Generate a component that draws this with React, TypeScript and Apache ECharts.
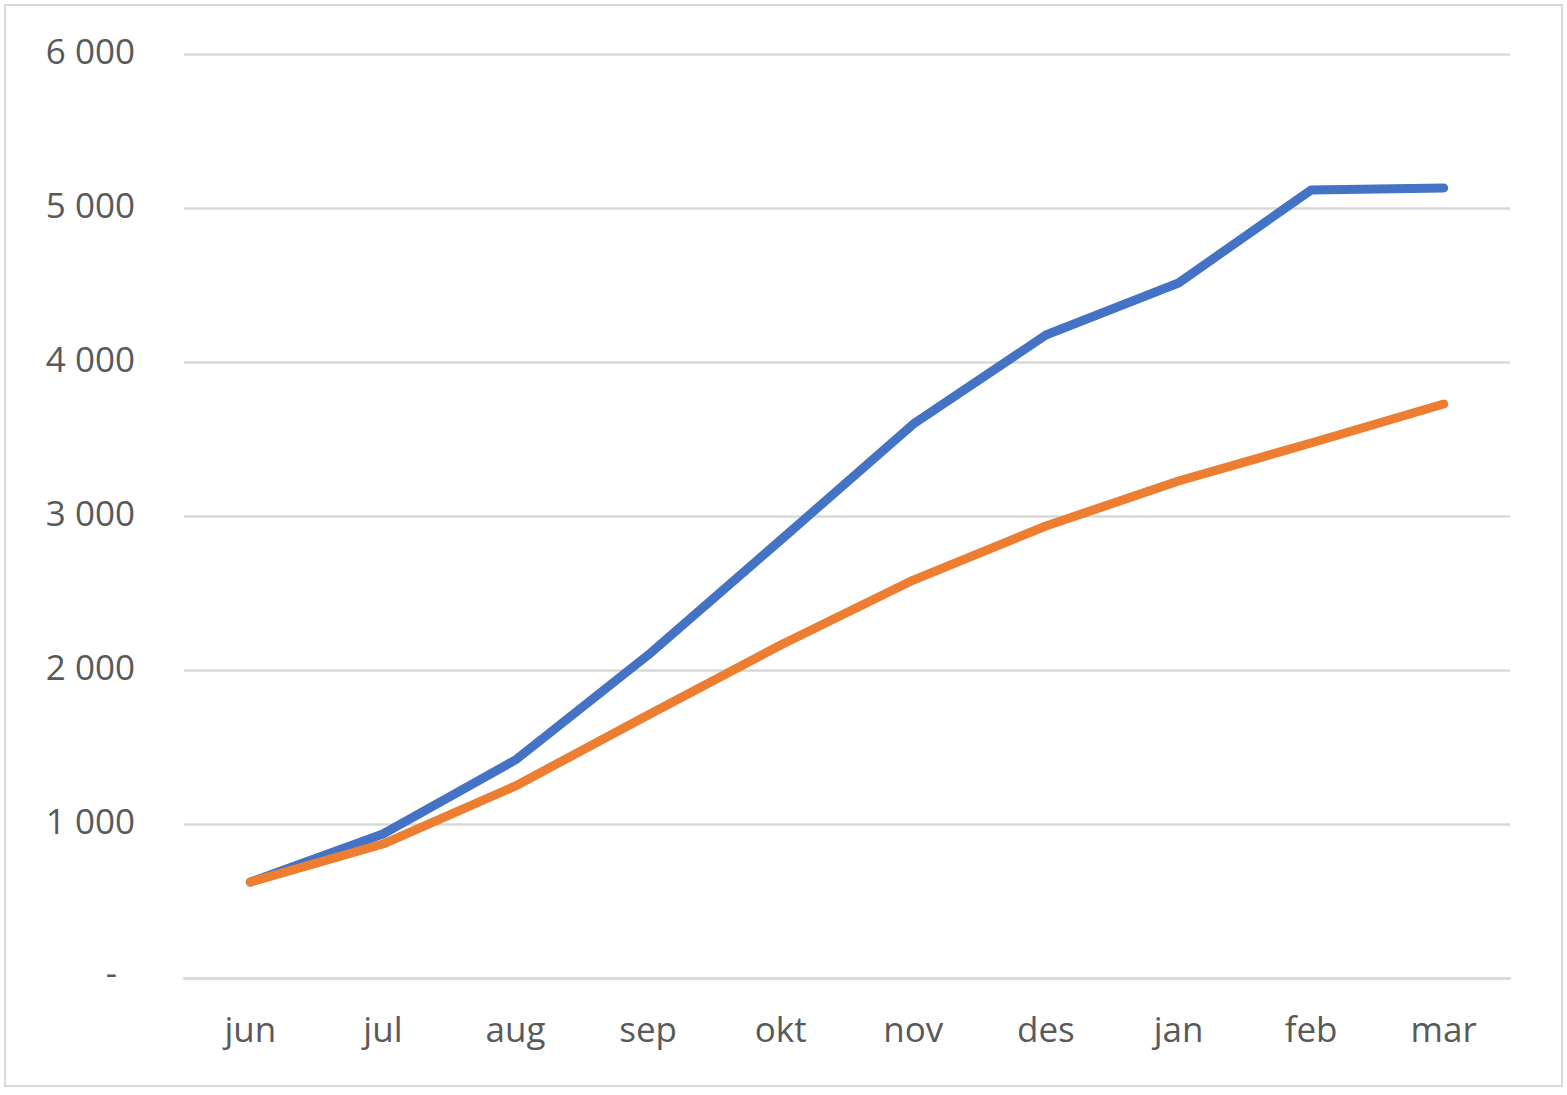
import React, { useEffect, useRef } from "react";
import * as echarts from "echarts";

const months = ["jun", "jul", "aug", "sep", "okt", "nov", "des", "jan", "feb", "mar"];
const blueSeries = [623, 935, 1416, 2097, 2844, 3597, 4175, 4513, 5117, 5130];
const orangeSeries = [623, 870, 1247, 1708, 2162, 2584, 2935, 3227, 3474, 3727];
const yMin = 0;
const yMax = 6000;
const yStep = 1000;

function fmt(v: number): string {
  if (v === 0) return "{d|-}";
  return "{n|" + String(v).replace(/\B(?=(\d{3})+(?!\d))/g, " ") + "}";
}

export default function App() {
  const ref = useRef<HTMLDivElement>(null);
  useEffect(() => {
    document.body.style.margin = "0";
    const chart = echarts.init(ref.current!, null, { renderer: "svg" });
    const font = "'Open Sans', 'Noto Sans', sans-serif";
    chart.setOption({
      animation: false,
      backgroundColor: "#ffffff",
      graphic: [
        {
          type: "rect",
          shape: { x: 5, y: 5, width: 1557, height: 1081 },
          style: { fill: "none", stroke: "#d9d9d9", lineWidth: 2 },
          silent: true,
        },
      ],
      grid: { left: 184, right: 57, top: 54, bottom: 117 },
      xAxis: {
        type: "category",
        data: months,
        boundaryGap: true,
        axisLine: { show: true, lineStyle: { color: "#d9d9d9", width: 2.5 } },
        axisTick: { show: false },
        axisLabel: { color: "#595959", fontSize: 35, fontFamily: font, margin: 33 },
      },
      yAxis: {
        type: "value",
        min: yMin,
        max: yMax,
        interval: yStep,
        axisLine: { show: false },
        axisTick: { show: false },
        splitLine: { lineStyle: { color: "#d9d9d9", width: 2.5 } },
        axisLabel: {
          color: "#595959",
          fontSize: 35,
          fontFamily: font,
          margin: 49,
          formatter: fmt,
          rich: {
            n: { color: "#595959", fontSize: 35, fontFamily: font, padding: [0, 0, 7, 0] },
            d: { color: "#595959", fontSize: 35, fontFamily: font, padding: [0, 18, 14, 0] },
          },
        },
      },
      series: [
        {
          type: "line",
          data: blueSeries,
          symbol: "none",
          lineStyle: { color: "#4472C4", width: 9, cap: "round", join: "round" },
        },
        {
          type: "line",
          data: orangeSeries,
          symbol: "none",
          lineStyle: { color: "#ED7D31", width: 9, cap: "round", join: "round" },
        },
      ],
    });
    return () => chart.dispose();
  }, []);
  return <div ref={ref} style={{ width: 1567, height: 1095 }} />;
}
